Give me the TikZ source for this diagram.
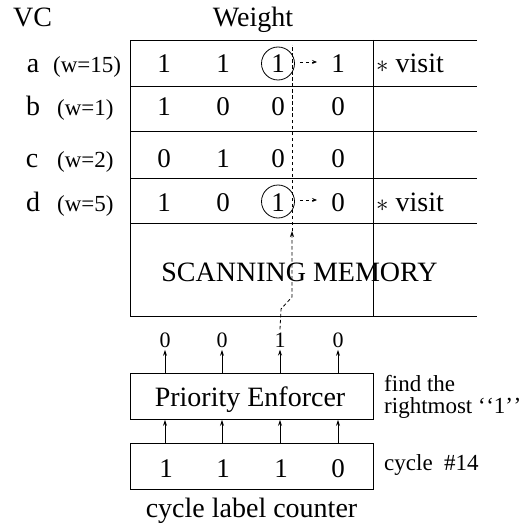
\documentclass[tikz,border=0pt]{standalone}
\usepackage{fontspec}
\setmainfont{Liberation Serif}
\usetikzlibrary{arrows.meta}
\begin{document}
\begin{tikzpicture}[x=1pt,y=-1pt,
  big/.style={font=\fontsize{28}{30}\selectfont, inner sep=0pt, anchor=base},
  dig/.style={font=\fontsize{27}{30}\selectfont, inner sep=0pt, anchor=base},
  wlab/.style={font=\fontsize{23}{25}\selectfont, inner sep=0pt, anchor=base west},
  outd/.style={font=\fontsize{22}{24}\selectfont, inner sep=0pt, anchor=base},
  note/.style={font=\fontsize{23}{25}\selectfont, inner sep=0pt, anchor=base west},
  frame/.style={line width=0.9pt},
  boxstyle/.style={draw, line width=0.9pt, minimum width=243pt, minimum height=46pt, inner sep=0pt},
  tip/.style={-{Stealth[length=6pt,width=4pt,inset=2pt]}, line width=0.8pt},
  smalltip/.style={-{Stealth[length=5pt,width=4pt,inset=2pt]}, line width=0.7pt},
  dashline/.style={dash pattern=on 3.5pt off 2.5pt, line width=0.8pt},
  ring/.style={circle, draw, line width=0.8pt, minimum size=33pt, inner sep=0pt}]
\useasboundingbox (0,0) rectangle (521,524);

% headings
\node[big, anchor=base west] (vc) at (13,27) {VC};
\node[big] (weight) at (253,27) {Weight};

% scanning memory frame
\draw[frame] (477,40) -- (130,40) -- (130,316) -- (477,316);
\foreach \yy in {86,131,178,223} \draw[frame] (130,\yy) -- (477,\yy);
\draw[frame] (373,40) -- (373,316);

% row labels
\node[big] (la) at (33,73) {a};
\node[big] (lb) at (33,115) {b};
\node[big] (lc) at (32,167) {c};
\node[big] (ld) at (33,211) {d};
\node[wlab] (wa) at (53,73) {(w=15)};
\node[wlab] (wb) at (57,115) {(w=1)};
\node[wlab] (wc) at (57,167) {(w=2)};
\node[wlab] (wd) at (57,211) {(w=5)};

% row digits
\node[dig] (a1) at (164,73) {1};
\node[dig] (a2) at (223,73) {1};
\node[dig] (a3) at (278,73) {1};
\node[dig] (a4) at (338,73) {1};
\node[dig] (b1) at (164,115) {1};
\node[dig] (b2) at (223,115) {0};
\node[dig] (b3) at (278,115) {0};
\node[dig] (b4) at (338,115) {0};
\node[dig] (c1) at (164,167) {0};
\node[dig] (c2) at (223,167) {1};
\node[dig] (c3) at (278,167) {0};
\node[dig] (c4) at (338,167) {0};
\node[dig] (d1) at (164,211) {1};
\node[dig] (d2) at (223,211) {0};
\node[dig] (d3) at (278,211) {1};
\node[dig] (d4) at (338,211) {0};

% circles and small arrows
\node[ring] (ca) at (278,63.5) {};
\node[ring] (cd) at (278,201.5) {};
\coordinate (ea) at (317,62);
\coordinate (ed) at (317,200);
\draw[dashline, smalltip] ([xshift=5pt]ca.east |- ea) -- (ea);
\draw[dashline, smalltip] ([xshift=5pt]cd.east |- ed) -- (ed);

% visit notes
\node[big, anchor=base west] (va) at (376,73) {$\ast$ visit};
\node[big, anchor=base west] (vd) at (376,211) {$\ast$ visit};

\node[big] (scan) at (299.5,281) {SCANNING MEMORY};

% priority enforcer and counter
\node[boxstyle] (pe) at (251.5,396.5) {};
\node[big] (pet) at (250,406) {Priority Enforcer};
\node[boxstyle] (cnt) at (251.5,466) {};
\node[dig] (k1) at (166,477) {1};
\node[dig] (k2) at (223,477) {1};
\node[dig] (k3) at (281,477) {1};
\node[dig] (k4) at (338,477) {0};
\node[big] (cntl) at (251.5,517) {cycle label counter};

% output bits
\node[outd] (o1) at (165,347) {0};
\node[outd] (o2) at (222,347) {0};
\node[outd] (o3) at (280,347) {1};
\node[outd] (o4) at (338,347) {0};

% arrows
\foreach \i in {1,2,3,4} {
  \draw[tip] (o\i |- cnt.north) -- (o\i |- pe.south);
  \draw[tip, shorten >=2.5pt] (o\i |- pe.north) -- (o\i.south);
}

% notes
\node[note] (n1) at (384,391) {find the};
\node[note] (n2) at (384,413) {rightmost `\kern0.5pt`1'\kern0.5pt'};
\node[note] (n3) at (384,470) {cycle\ \ \#14};

% dashed trace
\coordinate (b1p) at (281,309);
\coordinate (b2p) at (292,297);
\coordinate (hit) at (292,231);
\coordinate (topp) at (292,45);
\draw[dashline, tip] ([yshift=3pt]o3.north) -- (b1p) -- (b2p) -- (hit);
\draw[dashline] (hit) -- (topp);
\end{tikzpicture}
\end{document}
